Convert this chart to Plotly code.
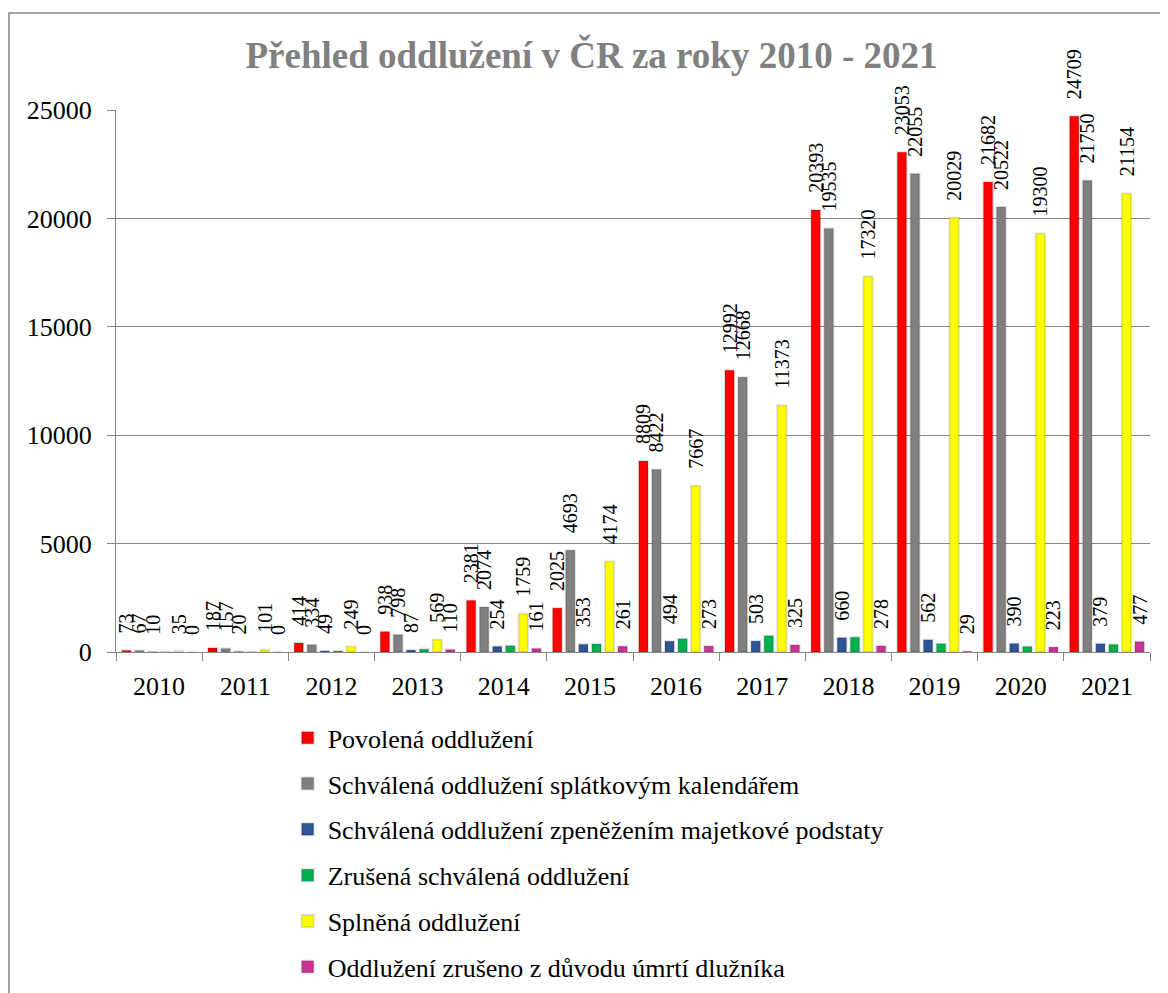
import plotly.graph_objects as go

years = ["2010", "2011", "2012", "2013", "2014", "2015", "2016", "2017", "2018", "2019", "2020", "2021"]

povolena = [73, 187, 414, 938, 2381, 2025, 8809, 12992, 20393, 23053, 21682, 24709]
schvalena_splatky = [67, 157, 334, 798, 2074, 4693, 8422, 12668, 19535, 22055, 20522, 21750]
schvalena_zpenezeni = [10, 20, 49, 87, 254, 353, 494, 503, 660, 562, 390, 379]
zrusena_schvalena = [5, 8, 45, 125, 290, 370, 610, 750, 680, 380, 250, 345]
splnena = [35, 101, 249, 569, 1759, 4174, 7667, 11373, 17320, 20029, 19300, 21154]
umrti = [0, 0, 0, 110, 161, 261, 273, 325, 278, 29, 223, 477]

y_ticks = [0, 5000, 10000, 15000, 20000, 25000]
y_tick_labels = ["0", "5000", "10000", "15000", "20000", "25000"]

series = [
    ("Povolená oddlužení", povolena, "#FF0000", True),
    ("Schválená oddlužení splátkovým kalendářem", schvalena_splatky, "#808080", True),
    ("Schválená oddlužení zpeněžením majetkové podstaty", schvalena_zpenezeni, "#2F5597", True),
    ("Zrušená schválená oddlužení", zrusena_schvalena, "#00B050", False),
    ("Splněná oddlužení", splnena, "#FFFF00", True),
    ("Oddlužení zrušeno z důvodu úmrtí dlužníka", umrti, "#CC3399", True),
]

serif = "Liberation Serif, Times New Roman, serif"
label_pad = "\u2002\u2009"  # small gap between bar top and rotated label

fig = go.Figure()
for i, (name, vals, color, labeled) in enumerate(series):
    fig.add_trace(go.Bar(
        name=name,
        x=years,
        y=vals,
        marker=dict(color=color, line=dict(color="rgba(0,0,0,0.12)", width=2)),
        text=[label_pad + str(v) for v in vals] if labeled else None,
        textposition="outside" if labeled else "none",
        textangle=-90,
        textfont=dict(family=serif, size=20, color="black"),
        constraintext="none",
        cliponaxis=False,
        legendgroup=f"g{i}",
    ))

fig.update_layout(
    width=1160,
    height=985,
    barmode="group",
    bargap=0.09,
    bargroupgap=0.3,
    plot_bgcolor="white",
    paper_bgcolor="white",
    margin=dict(l=108, r=18, t=102, b=341, pad=0, autoexpand=False),
    title=dict(
        text="<b>Přehled oddlužení v ČR za roky 2010 - 2021</b>",
        font=dict(family=serif, size=37, color="#808080"),
        x=0.503, xanchor="center", y=0.952, yanchor="middle",
    ),
    font=dict(family=serif, color="black"),
    showlegend=True,
    legend=dict(
        x=0.166, xanchor="left",
        y=-0.115, yanchor="top",
        font=dict(family=serif, size=26, color="black"),
        tracegroupgap=9,
        bgcolor="rgba(0,0,0,0)",
    ),
    xaxis=dict(
        type="category",
        showline=True, linecolor="#868686", linewidth=1,
        ticks="outside", tickson="boundaries", ticklen=8, tickcolor="#868686",
        tickfont=dict(family=serif, size=26, color="black"),
        ticklabelstandoff=11,
        showgrid=False,
    ),
    yaxis=dict(
        range=[0, 25000],
        tickvals=y_ticks,
        ticktext=y_tick_labels,
        showline=True, linecolor="#868686", linewidth=1,
        ticks="outside", ticklen=8, tickcolor="#868686",
        tickfont=dict(family=serif, size=26, color="black"),
        ticklabelstandoff=10,
        showgrid=True, gridcolor="#868686", gridwidth=1,
        zeroline=False,
    ),
    shapes=[dict(
        type="rect", xref="paper", yref="paper",
        x0=-0.1035, x1=1.0164, y0=-0.66, y1=1.179,
        line=dict(color="#868686", width=1.5), fillcolor="rgba(0,0,0,0)",
        layer="below",
    )],
)

fig.write_html("out.html")
